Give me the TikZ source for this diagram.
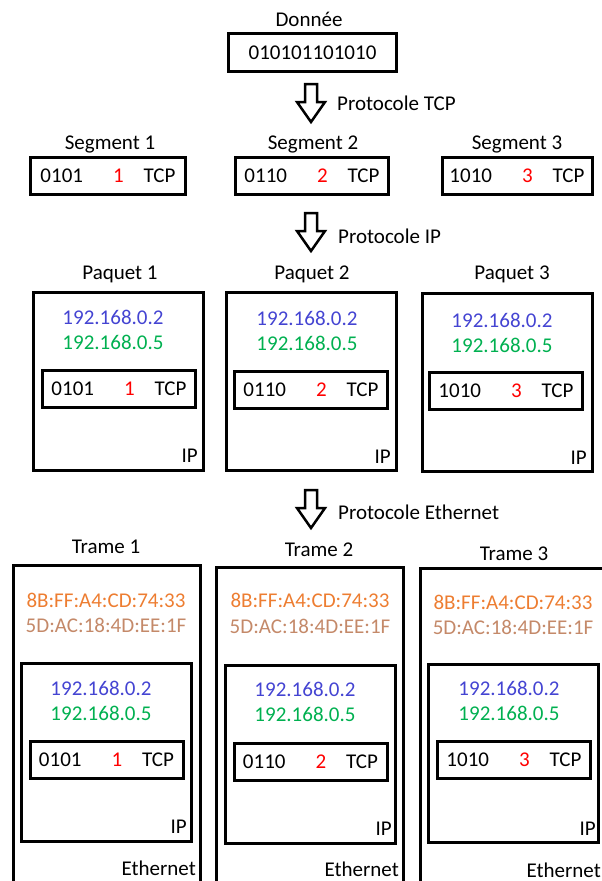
\documentclass[tikz,border=0pt]{standalone}
\usepackage{fontspec}
\setmainfont{Carlito}
\definecolor{ipsrc}{RGB}{68,68,210}
\definecolor{ipdst}{RGB}{0,176,80}
\definecolor{macsrc}{RGB}{237,125,49}
\definecolor{macdst}{RGB}{196,137,105}
\definecolor{seqred}{RGB}{255,0,0}
\newcommand{\tcpseg}[2]{#1\hspace{30pt}\textcolor{seqred}{#2}\hspace{20pt}TCP}
\newcommand{\stagearrow}[2]{%
  \coordinate (#1) at (#2);
  \draw[stagearr] (#1) ++(-6,0) -- ++(12,0) -- ++(0,18) -- ++(8,0)
    -- ++(-14,20) -- ++(-14,-20) -- ++(8,0) -- cycle;}
\begin{document}
\begin{tikzpicture}[x=1pt, y=-1pt,
    lbl/.style={font=\fontsize{21}{25}\selectfont, inner sep=0pt},
    boxline/.style={draw, line width=3pt, inner sep=0pt, lbl},
    tcpbox/.style={boxline, minimum width=153, minimum height=37},
    ipbox/.style={boxline, minimum width=170, minimum height=178},
    ethbox/.style={boxline, minimum width=187, minimum height=340},
    stagearr/.style={line width=2.5pt, line join=miter}]
  \useasboundingbox (0,0) rectangle (602,881);

  % donnee
  \node[lbl, anchor=base] (donnee) at (309,26) {Donnée};
  \node[boxline, minimum width=168, minimum height=38] (data) at (312.5,52.5) {010101101010};
  \stagearrow{a1}{311,84}
  \node[lbl, anchor=base west] (ptcp) at (337,110) {Protocole TCP};

  % segments
  \node[lbl, anchor=base] (s1lbl) at (110,149) {Segment 1};
  \node[lbl, anchor=base] (s2lbl) at (313,149) {Segment 2};
  \node[lbl, anchor=base] (s3lbl) at (517,149) {Segment 3};
  \node[tcpbox, minimum width=155] (seg1) at (108,176) {\tcpseg{0101}{1}};
  \node[tcpbox] (seg2) at (312,176) {\tcpseg{0110}{2}};
  \node[tcpbox, minimum width=150] (seg3) at (517,176) {\tcpseg{1010}{3}};
  \stagearrow{a2}{311,213}
  \node[lbl, anchor=base west] (pip) at (338,243) {Protocole IP};

  % paquets
  \node[lbl, anchor=base] (p1lbl) at (120,279) {Paquet 1};
  \node[lbl, anchor=base] (p2lbl) at (312,279) {Paquet 2};
  \node[lbl, anchor=base] (p3lbl) at (512,279) {Paquet 3};
  \node[ipbox] (pq1) at (118.5,381.5) {};
  \node[ipbox] (pq2) at (311,381.5) {};
  \node[ipbox] (pq3) at (507,382.5) {};
  \node[lbl, ipsrc] (pq1src) at (113,317) {192.168.0.2};
  \node[lbl, ipdst] (pq1dst) at (113,342) {192.168.0.5};
  \node[lbl, ipsrc] (pq2src) at (307,318) {192.168.0.2};
  \node[lbl, ipdst] (pq2dst) at (307,343) {192.168.0.5};
  \node[lbl, ipsrc] (pq3src) at (502,320) {192.168.0.2};
  \node[lbl, ipdst] (pq3dst) at (502,345) {192.168.0.5};
  \node[tcpbox] (pq1tcp) at (119,388.5) {\tcpseg{0101}{1}};
  \node[tcpbox] (pq2tcp) at (311,389.5) {\tcpseg{0110}{2}};
  \node[tcpbox] (pq3tcp) at (506,391) {\tcpseg{1010}{3}};
  \node[lbl, anchor=base east] (pq1ip) at (198,462) {IP};
  \node[lbl, anchor=base east] (pq2ip) at (391,463) {IP};
  \node[lbl, anchor=base east] (pq3ip) at (587,464) {IP};
  \stagearrow{a3}{311,490}
  \node[lbl, anchor=base west] (peth) at (338,519) {Protocole Ethernet};

  % trames
  \node[lbl, anchor=base] (t1lbl) at (106,553) {Trame 1};
  \node[lbl, anchor=base] (t2lbl) at (319,556) {Trame 2};
  \node[lbl, anchor=base] (t3lbl) at (514,560) {Trame 3};
  \node[ethbox] (tr1) at (107,735) {};
  \node[ethbox] (tr2) at (310,737) {};
  \node[ethbox] (tr3) at (514,738) {};
  \node[lbl, macsrc] (tr1src) at (106,600) {8B:FF:A4:CD:74:33};
  \node[lbl, macdst] (tr1dst) at (106,625) {5D:AC:18:4D:EE:1F};
  \node[lbl, macsrc] (tr2src) at (310,600) {8B:FF:A4:CD:74:33};
  \node[lbl, macdst] (tr2dst) at (310,626) {5D:AC:18:4D:EE:1F};
  \node[lbl, macsrc] (tr3src) at (513,602) {8B:FF:A4:CD:74:33};
  \node[lbl, macdst] (tr3dst) at (513,627) {5D:AC:18:4D:EE:1F};
  \node[ipbox] (tr1pq) at (106.5,752.5) {};
  \node[ipbox] (tr2pq) at (310.5,754.5) {};
  \node[ipbox] (tr3pq) at (513.5,753.5) {};
  \node[lbl, ipsrc] (tr1ipsrc) at (101,688) {192.168.0.2};
  \node[lbl, ipdst] (tr1ipdst) at (101,713) {192.168.0.5};
  \node[lbl, ipsrc] (tr2ipsrc) at (305,689) {192.168.0.2};
  \node[lbl, ipdst] (tr2ipdst) at (305,714) {192.168.0.5};
  \node[lbl, ipsrc] (tr3ipsrc) at (509,688) {192.168.0.2};
  \node[lbl, ipdst] (tr3ipdst) at (509,713) {192.168.0.5};
  \node[tcpbox] (tr1tcp) at (106.5,760) {\tcpseg{0101}{1}};
  \node[tcpbox] (tr2tcp) at (310.5,762) {\tcpseg{0110}{2}};
  \node[tcpbox] (tr3tcp) at (514,760) {\tcpseg{1010}{3}};
  \node[lbl, anchor=base east] (tr1ip) at (187,833) {IP};
  \node[lbl, anchor=base east] (tr2ip) at (392,835) {IP};
  \node[lbl, anchor=base east] (tr3ip) at (596,835) {IP};
  \node[lbl, anchor=base east] (tr1eth) at (196,875) {Ethernet};
  \node[lbl, anchor=base east] (tr2eth) at (399,876) {Ethernet};
  \node[lbl, anchor=base east] (tr3eth) at (601,877) {Ethernet};
\end{tikzpicture}
\end{document}
